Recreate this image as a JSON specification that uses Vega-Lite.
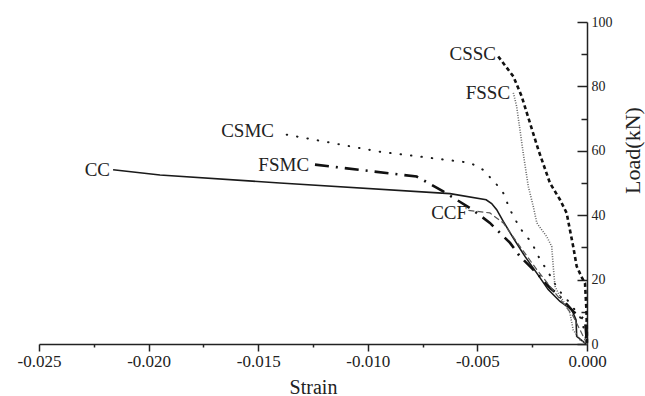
{
  "$schema": "https://vega.github.io/schema/vega-lite/v6.json",
  "width": 548,
  "height": 322,
  "autosize": "none",
  "padding": {"left": 39, "top": 22, "right": 58, "bottom": 52},
  "background": "white",
  "config": {
    "view": {"stroke": null},
    "font": "Liberation Serif"
  },
  "datasets": {
    "curves": [
      {"s": "CC", "x": -0.02162, "y": 54.1},
      {"s": "CC", "x": -0.01948, "y": 52.5},
      {"s": "CC", "x": -0.01401, "y": 50.0},
      {"s": "CC", "x": -0.00625, "y": 46.7},
      {"s": "CC", "x": -0.00460, "y": 44.8},
      {"s": "CC", "x": -0.00435, "y": 43.6},
      {"s": "CC", "x": -0.00412, "y": 41.7},
      {"s": "CC", "x": -0.00382, "y": 38.1},
      {"s": "CC", "x": -0.00336, "y": 32.9},
      {"s": "CC", "x": -0.00283, "y": 27.2},
      {"s": "CC", "x": -0.00229, "y": 22.0},
      {"s": "CC", "x": -0.00177, "y": 16.9},
      {"s": "CC", "x": -0.00123, "y": 13.2},
      {"s": "CC", "x": -0.00070, "y": 10.7},
      {"s": "CC", "x": -0.00050, "y": 7.5},
      {"s": "CC", "x": -0.00047, "y": 2.4},
      {"s": "CC", "x": -0.00009, "y": 0.3},
      {"s": "CC", "x": 0.0, "y": 0.0},

      {"s": "CSMC", "x": -0.01370, "y": 65.0},
      {"s": "CSMC", "x": -0.00944, "y": 59.7},
      {"s": "CSMC", "x": -0.00534, "y": 56.3},
      {"s": "CSMC", "x": -0.00474, "y": 54.1},
      {"s": "CSMC", "x": -0.00412, "y": 49.5},
      {"s": "CSMC", "x": -0.00382, "y": 46.9},
      {"s": "CSMC", "x": -0.00351, "y": 41.7},
      {"s": "CSMC", "x": -0.00306, "y": 36.0},
      {"s": "CSMC", "x": -0.00252, "y": 31.4},
      {"s": "CSMC", "x": -0.00214, "y": 26.2},
      {"s": "CSMC", "x": -0.00184, "y": 23.1},
      {"s": "CSMC", "x": -0.00131, "y": 16.9},
      {"s": "CSMC", "x": -0.00078, "y": 12.7},
      {"s": "CSMC", "x": -0.00024, "y": 7.6},
      {"s": "CSMC", "x": -0.00001, "y": 0.4},

      {"s": "FSMC", "x": -0.01241, "y": 55.7},
      {"s": "FSMC", "x": -0.00777, "y": 52.0},
      {"s": "FSMC", "x": -0.00656, "y": 47.4},
      {"s": "FSMC", "x": -0.00534, "y": 42.2},
      {"s": "FSMC", "x": -0.00503, "y": 40.7},
      {"s": "FSMC", "x": -0.00443, "y": 37.6},
      {"s": "FSMC", "x": -0.00397, "y": 34.5},
      {"s": "FSMC", "x": -0.00351, "y": 31.4},
      {"s": "FSMC", "x": -0.00306, "y": 27.2},
      {"s": "FSMC", "x": -0.00260, "y": 24.1},
      {"s": "FSMC", "x": -0.00222, "y": 21.5},
      {"s": "FSMC", "x": -0.00169, "y": 17.4},
      {"s": "FSMC", "x": -0.00131, "y": 15.3},
      {"s": "FSMC", "x": -0.00063, "y": 10.1},
      {"s": "FSMC", "x": -0.00032, "y": 8.6},
      {"s": "FSMC", "x": -0.00009, "y": 7.5},
      {"s": "FSMC", "x": 0.0, "y": 0.0},

      {"s": "CCF", "x": -0.00541, "y": 41.5},
      {"s": "CCF", "x": -0.00443, "y": 40.7},
      {"s": "CCF", "x": -0.00382, "y": 37.6},
      {"s": "CCF", "x": -0.00306, "y": 30.3},
      {"s": "CCF", "x": -0.00229, "y": 23.1},
      {"s": "CCF", "x": -0.00169, "y": 17.9},
      {"s": "CCF", "x": -0.00108, "y": 12.7},
      {"s": "CCF", "x": -0.00063, "y": 8.6},
      {"s": "CCF", "x": -0.00032, "y": 4.4},
      {"s": "CCF", "x": 0.0, "y": 0.0},

      {"s": "CSSC", "x": -0.00405, "y": 89.3},
      {"s": "CSSC", "x": -0.00336, "y": 83.1},
      {"s": "CSSC", "x": -0.00298, "y": 76.9},
      {"s": "CSSC", "x": -0.00260, "y": 68.6},
      {"s": "CSSC", "x": -0.00222, "y": 60.3},
      {"s": "CSSC", "x": -0.00169, "y": 50.0},
      {"s": "CSSC", "x": -0.00123, "y": 44.8},
      {"s": "CSSC", "x": -0.00093, "y": 40.7},
      {"s": "CSSC", "x": -0.00078, "y": 35.5},
      {"s": "CSSC", "x": -0.00063, "y": 30.3},
      {"s": "CSSC", "x": -0.00047, "y": 24.1},
      {"s": "CSSC", "x": -0.00023, "y": 20.6},
      {"s": "CSSC", "x": -0.00009, "y": 18.9},
      {"s": "CSSC", "x": -0.00002, "y": 9.7},
      {"s": "CSSC", "x": 0.0, "y": 0.0},

      {"s": "FSSC", "x": -0.00336, "y": 78.0},
      {"s": "FSSC", "x": -0.00321, "y": 73.8},
      {"s": "FSSC", "x": -0.00306, "y": 66.6},
      {"s": "FSSC", "x": -0.00291, "y": 59.3},
      {"s": "FSSC", "x": -0.00268, "y": 49.0},
      {"s": "FSSC", "x": -0.00245, "y": 42.7},
      {"s": "FSSC", "x": -0.00229, "y": 37.6},
      {"s": "FSSC", "x": -0.00184, "y": 33.4},
      {"s": "FSSC", "x": -0.00161, "y": 30.3},
      {"s": "FSSC", "x": -0.00154, "y": 24.1},
      {"s": "FSSC", "x": -0.00146, "y": 17.9},
      {"s": "FSSC", "x": -0.00131, "y": 15.8},
      {"s": "FSSC", "x": -0.00093, "y": 11.7},
      {"s": "FSSC", "x": -0.00078, "y": 9.6},
      {"s": "FSSC", "x": -0.00063, "y": 4.4},
      {"s": "FSSC", "x": -0.00032, "y": 1.3},
      {"s": "FSSC", "x": 0.0, "y": 0.0}
    ],
    "labels": [
      {"label": "CC", "x": -0.02176, "y": 54.1},
      {"label": "CSMC", "x": -0.01428, "y": 66.2},
      {"label": "FSMC", "x": -0.01268, "y": 55.7},
      {"label": "CCF", "x": -0.00547, "y": 40.8},
      {"label": "CSSC", "x": -0.00415, "y": 90.2},
      {"label": "FSSC", "x": -0.00351, "y": 78.1}
    ]
  },
  "encoding": {
    "x": {
      "field": "x",
      "type": "quantitative",
      "scale": {"domain": [-0.025, 0], "nice": false, "zero": false},
      "axis": {
        "title": "Strain",
        "titleFont": "Liberation Serif",
        "titleFontSize": 20,
        "titleFontWeight": "normal",
        "titleColor": "#222",
        "titleBaseline": "alphabetic",
        "titleY": 49,
        "titleX": 274,
        "grid": false,
        "domainColor": "#222",
        "domainWidth": 1.5,
        "tickColor": "#222",
        "tickWidth": 1.5,
        "values": [-0.025, -0.0225, -0.02, -0.0175, -0.015, -0.0125, -0.01, -0.0075, -0.005, -0.0025, 0],
        "tickSize": {"condition": {"test": "abs(datum.value*200 - round(datum.value*200)) < 0.01", "value": 7}, "value": 3},
        "labelExpr": "abs(datum.value*200 - round(datum.value*200)) < 0.01 ? ((datum.value < -0.0001 ? '-' : '') + format(abs(datum.value), '.3f')) : ''",
        "labelFont": "Liberation Serif",
        "labelFontSize": 17,
        "labelColor": "#222",
        "labelPadding": 2,
        "labelFlush": false,
        "labelOverlap": false
      }
    },
    "y": {
      "field": "y",
      "type": "quantitative",
      "scale": {"domain": [0, 100], "nice": false},
      "axis": {
        "orient": "right",
        "title": "Load(kN)",
        "titleFont": "Liberation Serif",
        "titleFontSize": 22,
        "titleFontWeight": "normal",
        "titleColor": "#222",
        "titleAngle": -90,
        "titleBaseline": "alphabetic",
        "titleAlign": "center",
        "titleX": 52,
        "titleY": 128,
        "grid": false,
        "domainColor": "#222",
        "domainWidth": 1.5,
        "tickColor": "#222",
        "tickWidth": 1.5,
        "values": [0, 10, 20, 30, 40, 50, 60, 70, 80, 90, 100],
        "tickSize": {"condition": {"test": "datum.value % 20 === 0", "value": -10}, "value": -6},
        "labelExpr": "datum.value % 20 === 0 ? datum.label : ''",
        "labelFont": "Liberation Serif",
        "labelFontSize": 14,
        "labelColor": "#222",
        "labelPadding": 14,
        "labelOverlap": false
      }
    }
  },
  "layer": [
    {
      "data": {"name": "curves"},
      "transform": [{"filter": "datum.s === 'CC'"}],
      "mark": {"type": "line", "color": "#1a1a1a", "strokeWidth": 1.6}
    },
    {
      "data": {"name": "curves"},
      "transform": [{"filter": "datum.s === 'CSMC'"}],
      "mark": {"type": "line", "color": "#1a1a1a", "strokeWidth": 2, "strokeDash": [0.5, 10], "strokeCap": "round"}
    },
    {
      "data": {"name": "curves"},
      "transform": [{"filter": "datum.s === 'FSMC'"}],
      "mark": {"type": "line", "color": "#111", "strokeWidth": 2.6, "strokeDash": [14, 7, 2, 7]}
    },
    {
      "data": {"name": "curves"},
      "transform": [{"filter": "datum.s === 'CCF'"}],
      "mark": {"type": "line", "color": "#555", "strokeWidth": 1.2, "strokeDash": [6, 3]}
    },
    {
      "data": {"name": "curves"},
      "transform": [{"filter": "datum.s === 'CSSC'"}],
      "mark": {"type": "line", "color": "#111", "strokeWidth": 2.6, "strokeDash": [4, 3]}
    },
    {
      "data": {"name": "curves"},
      "transform": [{"filter": "datum.s === 'FSSC'"}],
      "mark": {"type": "line", "color": "#666", "strokeWidth": 1.6, "strokeDash": [1, 1.5]}
    },
    {
      "data": {"name": "labels"},
      "mark": {"type": "text", "align": "right", "baseline": "middle", "font": "Liberation Serif", "fontSize": 19, "color": "#222"},
      "encoding": {"text": {"field": "label"}}
    }
  ]
}
